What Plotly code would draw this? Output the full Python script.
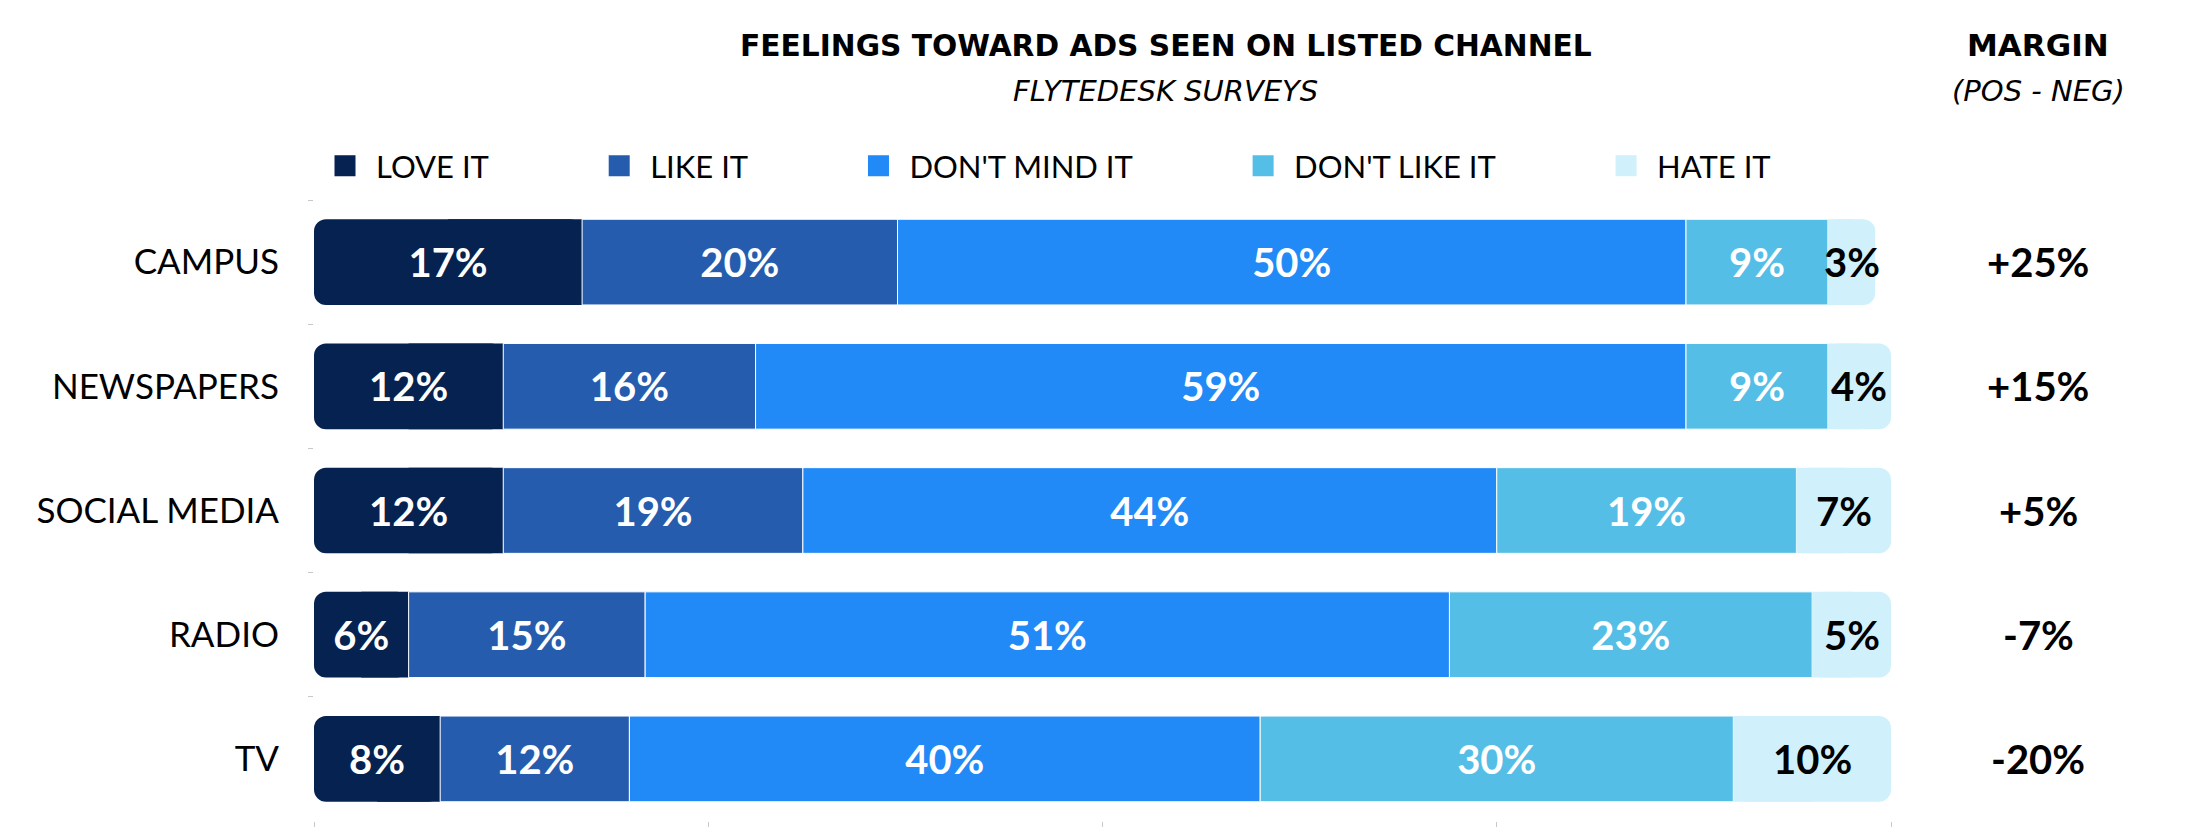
import plotly.graph_objects as go

# ---- data ----
categories = ["CAMPUS", "NEWSPAPERS", "SOCIAL MEDIA", "RADIO", "TV"]
love_it = [17, 12, 12, 6, 8]
like_it = [20, 16, 19, 15, 12]
dont_mind_it = [50, 59, 44, 51, 40]
dont_like_it = [9, 9, 19, 23, 30]
hate_it = [3, 4, 6, 5, 10]          # drawn bar length
hate_it_label = [3, 4, 7, 5, 10]    # printed value

series_names = ["LOVE IT", "LIKE IT", "DON'T MIND IT", "DON'T LIKE IT", "HATE IT"]
colors = ["#052250", "#255CAE", "#218AF6", "#54BEE6", "#D0F1FB"]
text_colors = ["white", "white", "white", "white", "black"]

margins = [a + b - c - d for a, b, c, d in zip(love_it, like_it, dont_like_it, hate_it_label)]

FONT = "Lato, 'Open Sans', sans-serif"
HEAD_FONT = "'DejaVu Sans', Lato, sans-serif"
W, H = 2206, 840
ML, MR, MT, MB = 314, 315, 200, 19
plot_w = W - ML - MR
plot_h = H - MT - MB
RADIUS = 12


def px_x(px):
    return (px - ML) / plot_w


def px_y(py):
    return (H - MB - py) / plot_h


fig = go.Figure()

base1 = love_it
base2 = [a + b for a, b in zip(love_it, like_it)]
base3 = [a + b for a, b in zip(base2, dont_mind_it)]
base4 = [a + b for a, b in zip(base3, dont_like_it)]

bar_common = dict(
    orientation="h",
    textposition="inside",
    insidetextanchor="middle",
    constraintext="none",
    textangle=0,
    cliponaxis=False,
    hoverinfo="skip",
    showlegend=False,
)


def value_font(color):
    return dict(family=FONT, size=40, color=color, weight=700)


# LOVE IT: square inner half underneath, rounded full segment on top
fig.add_trace(go.Bar(
    y=categories, x=[v / 2 for v in love_it], base=[v / 2 for v in love_it],
    marker=dict(color=colors[0], line=dict(width=0), cornerradius=0),
    name=series_names[0], **bar_common))
fig.add_trace(go.Bar(
    y=categories, x=[-v for v in love_it], base=love_it,
    text=[f"{v}%" for v in love_it],
    marker=dict(color=colors[0], line=dict(width=0), cornerradius=RADIUS),
    insidetextfont=value_font(text_colors[0]),
    name=series_names[0], **bar_common))

for vals, base, i in [(like_it, base1, 1), (dont_mind_it, base2, 2), (dont_like_it, base3, 3)]:
    fig.add_trace(go.Bar(
        y=categories, x=vals, base=base,
        text=[f"{v}%" for v in vals],
        marker=dict(color=colors[i], line=dict(color="white", width=1), cornerradius=0),
        insidetextfont=value_font(text_colors[i]),
        name=series_names[i], **bar_common))

# HATE IT: square inner half underneath, rounded full segment on top
fig.add_trace(go.Bar(
    y=categories, x=[v / 2 for v in hate_it], base=base4,
    marker=dict(color=colors[4], line=dict(width=0), cornerradius=0),
    name=series_names[4], **bar_common))
fig.add_trace(go.Bar(
    y=categories, x=hate_it, base=base4,
    marker=dict(color=colors[4], line=dict(width=0), cornerradius=RADIUS),
    name=series_names[4], **bar_common))

# legend entries
pad = "\u00a0" * 12
for name, c in zip(series_names, colors):
    fig.add_trace(go.Scatter(
        x=[None], y=[None], mode="markers", name=name + pad,
        marker=dict(symbol="square", size=30, color=c, line=dict(color=c, width=5)),
        showlegend=True, hoverinfo="skip"))

annotations = [
    dict(text="FEELINGS TOWARD ADS SEEN ON LISTED CHANNEL", x=px_x(1166), y=px_y(45),
         font=dict(family=HEAD_FONT, size=29.7, color="black", weight=700)),
    dict(text="FLYTEDESK SURVEYS", x=px_x(1165), y=px_y(91),
         font=dict(family=HEAD_FONT, size=29, color="black", style="italic", weight=400)),
    dict(text="MARGIN", x=px_x(2038), y=px_y(45),
         font=dict(family=HEAD_FONT, size=31, color="black", weight=700)),
    dict(text="(POS - NEG)", x=px_x(2038), y=px_y(91),
         font=dict(family=HEAD_FONT, size=29, color="black", style="italic", weight=400)),
]
for a in annotations:
    a.update(xref="paper", yref="paper", showarrow=False, xanchor="center", yanchor="middle")

# HATE IT labels (full size even where the segment is narrow)
for cat, b, v, lab in zip(categories, base4, hate_it, hate_it_label):
    annotations.append(dict(
        text=f"{lab}%", x=b + v / 2, y=cat, xref="x", yref="y",
        showarrow=False, xanchor="center", yanchor="middle",
        font=value_font(text_colors[4])))

# margin column
for cat, m in zip(categories, margins):
    annotations.append(dict(
        text=f"{m:+d}%", x=px_x(2038), y=cat, xref="paper", yref="y",
        showarrow=False, xanchor="center", yanchor="middle",
        font=dict(family=FONT, size=40, color="black", weight=700)))

fig.update_layout(
    width=W, height=H,
    margin=dict(l=ML, r=MR, t=MT, b=MB, pad=0),
    paper_bgcolor="white", plot_bgcolor="white",
    barmode="overlay", bargap=0.31,
    font=dict(family=FONT, color="black"),
    showlegend=True,
    legend=dict(orientation="h", x=0, xanchor="left", y=px_y(166), yanchor="middle",
                font=dict(family=FONT, size=31, color="black"), itemwidth=52,
                traceorder="normal", bgcolor="rgba(0,0,0,0)", itemclick=False,
                itemdoubleclick=False),
    annotations=annotations,
    xaxis=dict(range=[0, 100], tickvals=[0, 25, 50, 75, 100], showticklabels=False,
               ticks="outside", ticklen=5, tickcolor="#c8c8c8", tickwidth=1,
               showgrid=False, zeroline=False, showline=False, fixedrange=True),
    yaxis=dict(autorange="reversed", ticks="outside", ticklen=5, tickcolor="#c8c8c8",
               tickwidth=1, tickson="boundaries", ticklabelstandoff=34,
               tickfont=dict(family=FONT, size=35, color="black"),
               showgrid=False, zeroline=False, showline=False, fixedrange=True),
)

fig.write_html(
    "out.html",
    config={"displayModeBar": False},
    post_script="document.body.style.margin='0';document.body.style.overflow='hidden';",
)
